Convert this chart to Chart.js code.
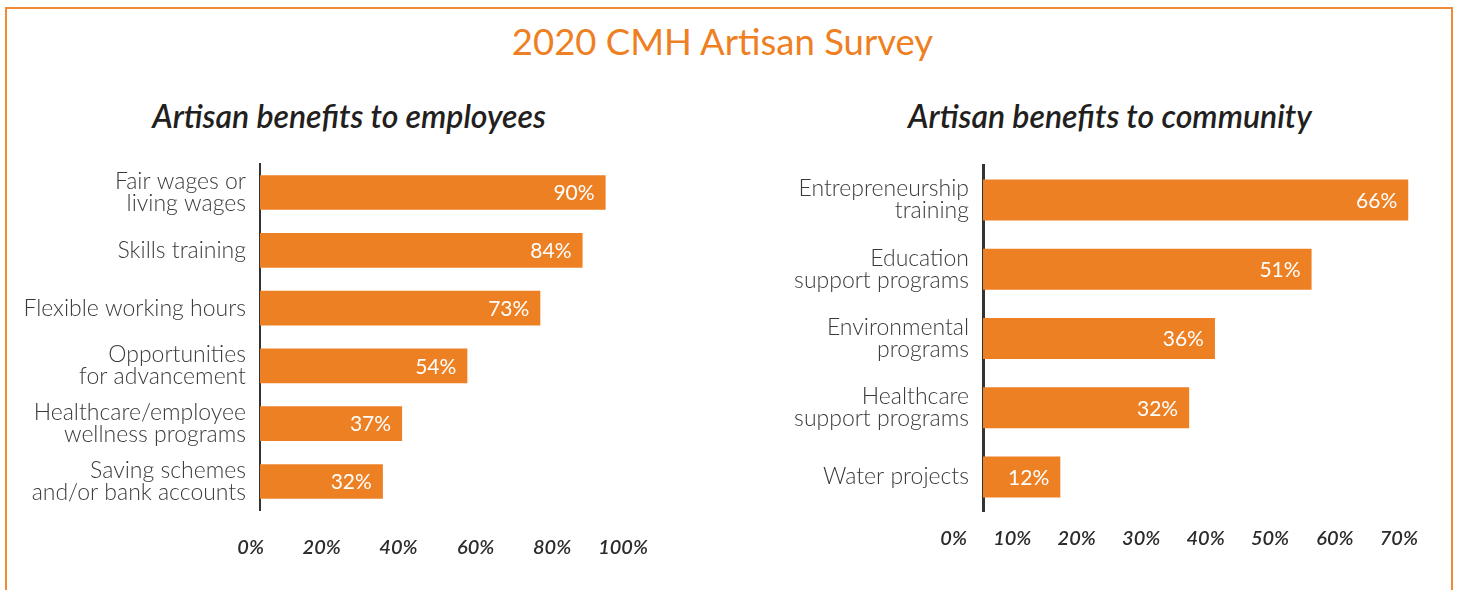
<!DOCTYPE html>
<html>
<head>
<meta charset="utf-8">
<title>2020 CMH Artisan Survey</title>
<script src="https://cdn.jsdelivr.net/npm/chart.js@4/dist/chart.umd.min.js"></script>
<style>
  html, body { margin: 0; padding: 0; background: #fff; }
  body { width: 1459px; height: 590px; overflow: hidden; position: relative; font-family: Lato, sans-serif; }
  .frame { position: absolute; left: 5px; top: 7px; width: 1444px; height: 620px; border: 2px solid #F08A36; }
  h1 { position: absolute; left: 0; top: 23px; width: 1445px; margin: 0; text-align: center;
       font: 400 36.5px/1 Lato, sans-serif; color: #EE7F22; }
  h2 { position: absolute; top: 100px; width: 600px; margin: 0; text-align: center;
       font: italic 600 32px/1 Lato, sans-serif; color: #231f20; }
  canvas { position: absolute; }
</style>
</head>
<body>
<div class="frame"></div>
<h1>2020 CMH Artisan Survey</h1>
<h2 style="left:49px">Artisan benefits to employees</h2>
<h2 style="left:810px">Artisan benefits to community</h2>
<canvas id="employees" width="660" height="420" style="left:10px; top:150px"></canvas>
<canvas id="community" width="735" height="420" style="left:720px; top:150px"></canvas>

<script>
// survey results, share of artisans (%)
const employeeLabels = [
  ['Fair wages or', 'living wages'],
  'Skills training',
  'Flexible working hours',
  ['Opportunities', 'for advancement'],
  ['Healthcare/employee', 'wellness programs'],
  ['Saving schemes', 'and/or bank accounts']
];
const employeeValues = [90, 84, 73, 54, 37, 32];
const employeeTicks = [0, 20, 40, 60, 80, 100];

const communityLabels = [
  ['Entrepreneurship', 'training'],
  ['Education', 'support programs'],
  ['Environmental', 'programs'],
  ['Healthcare', 'support programs'],
  'Water projects'
];
const communityValues = [66, 51, 36, 32, 12];
const communityTicks = [0, 10, 20, 30, 40, 50, 60, 70];

const ORANGE = '#EE8024';

// white "NN%" text at the end of each bar
const valueLabels = {
  id: 'valueLabels',
  afterDatasetsDraw(chart) {
    const ctx = chart.ctx;
    const values = chart.data.datasets[0].data;
    ctx.save();
    ctx.fillStyle = '#fff';
    ctx.font = '400 21px Lato';
    ctx.textAlign = 'right';
    ctx.textBaseline = 'middle';
    chart.getDatasetMeta(0).data.forEach((bar, i) => {
      ctx.fillText(values[i] + '%', bar.x - 11, bar.y + 1);
    });
    ctx.restore();
  }
};

// fixed axis sizes, and no extra room for overhanging labels
function fixSize(prop, size) {
  return s => {
    s[prop] = size;
    s.paddingTop = s.paddingBottom = s.paddingLeft = s.paddingRight = 0;
  };
}

function makeChart(id, labels, values, ticks, o) {
  return new Chart(document.getElementById(id), {
    type: 'bar',
    data: {
      labels: labels,
      datasets: [{
        data: values,
        backgroundColor: ORANGE,
        borderWidth: 0,
        categoryPercentage: 1,
        barPercentage: o.barPct
      }]
    },
    plugins: [valueLabels],
    options: {
      indexAxis: 'y',
      responsive: false,
      animation: false,
      layout: { padding: { top: o.padTop, right: o.padRight, left: 0, bottom: 0 } },
      plugins: { legend: { display: false }, tooltip: { enabled: false } },
      scales: {
        x: {
          min: ticks[0],
          max: ticks[ticks.length - 1],
          afterBuildTicks: s => { s.ticks = ticks.map(v => ({ value: v })); },
          afterFit: fixSize('height', o.xHeight),
          grid: { display: false, drawTicks: false },
          border: { display: false },
          ticks: {
            align: 'end',
            labelOffset: o.labelOffset,
            padding: o.tickPad,
            maxRotation: 0,
            autoSkip: false,
            color: '#2b2b2b',
            font: { family: 'Lato', size: 20, style: 'italic', weight: 600 },
            callback: v => v + '%'
          }
        },
        y: {
          z: 1,
          afterFit: fixSize('width', o.yWidth),
          grid: { display: false, drawTicks: false },
          border: { display: true, color: '#333', width: o.axisWidth },
          ticks: {
            padding: 14,
            color: '#3a3a3a',
            font: { family: 'Lato', size: 23, weight: 300, lineHeight: 0.96 }
          }
        }
      }
    }
  });
}

makeChart('employees', employeeLabels, employeeValues, employeeTicks, {
  yWidth: 250, xHeight: 59.6, padTop: 13.6, padRight: 26,
  barPct: 0.6, tickPad: 25, labelOffset: 4, axisWidth: 2
});

makeChart('community', communityLabels, communityValues, communityTicks, {
  yWidth: 263, xHeight: 58.4, padTop: 15.4, padRight: 21,
  barPct: 0.59, tickPad: 15, labelOffset: -16, axisWidth: 3
});
</script>
</body>
</html>
